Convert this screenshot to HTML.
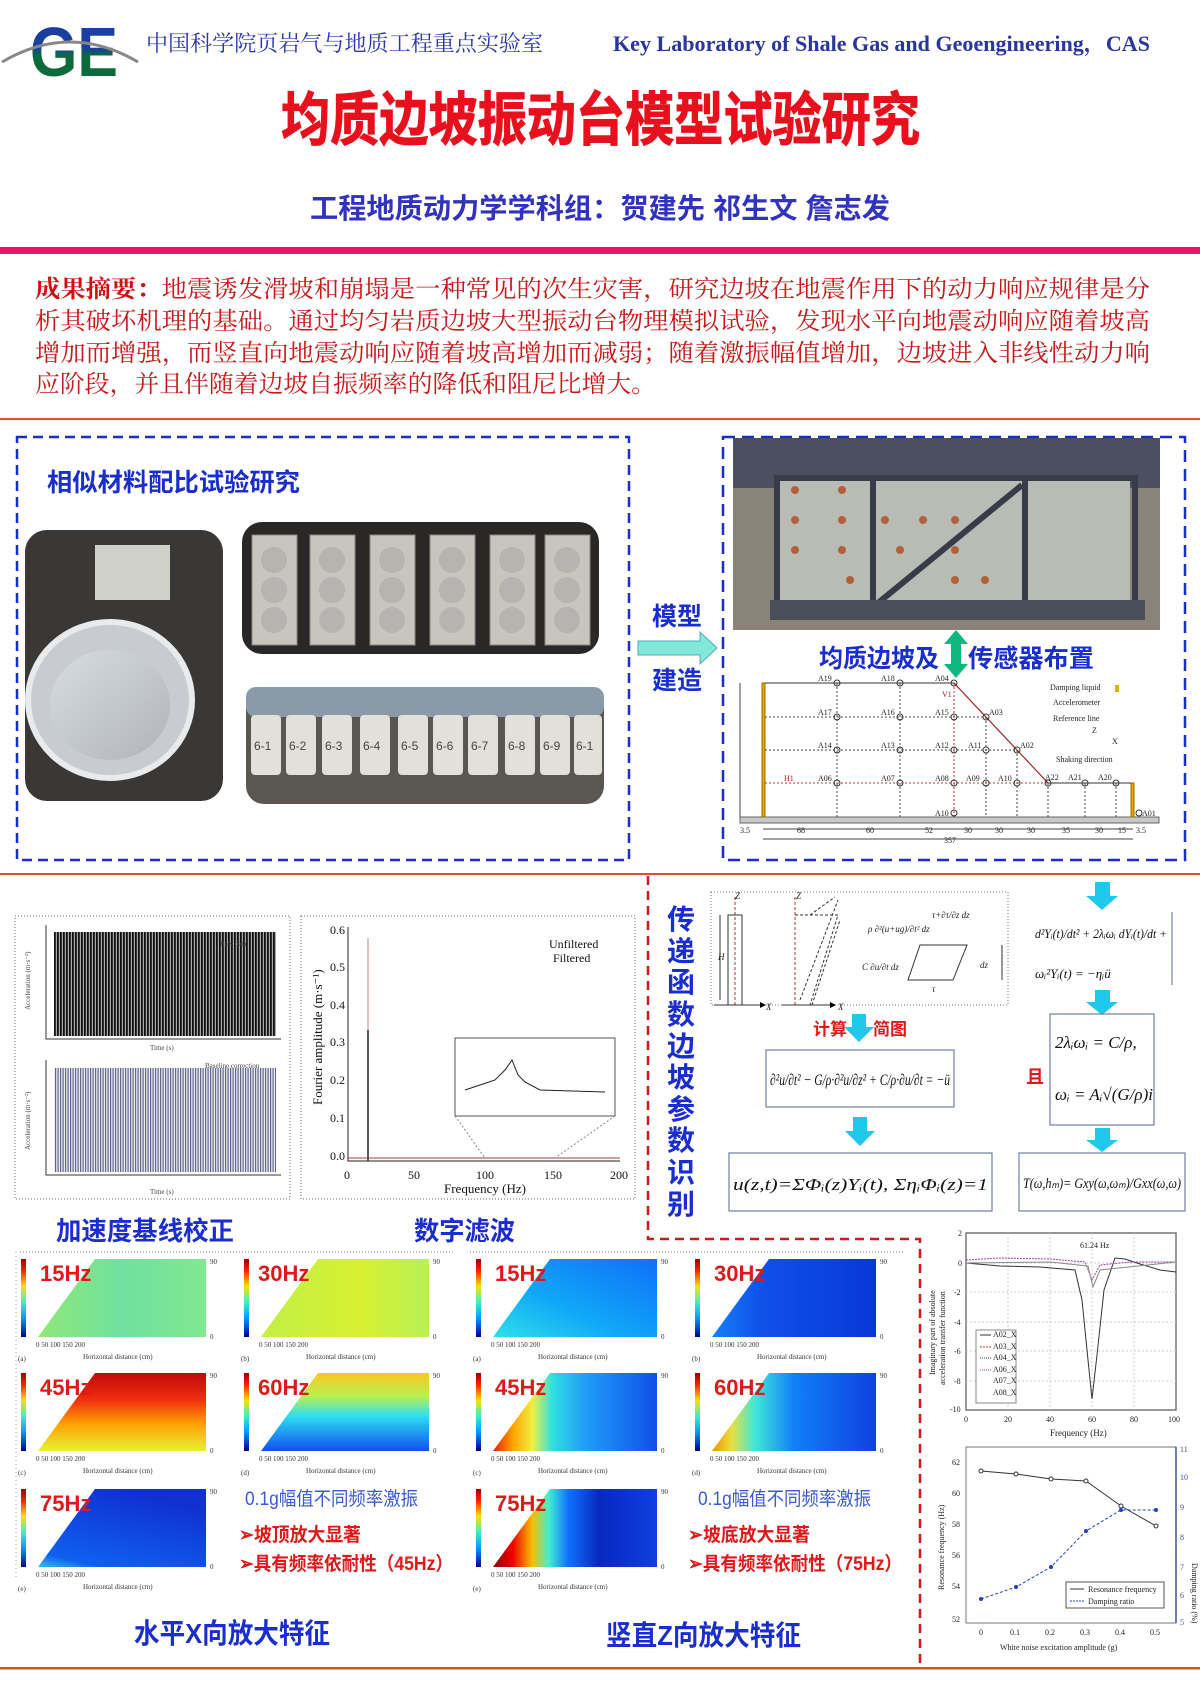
<!DOCTYPE html>
<html><head><meta charset="utf-8"><style>
html,body{margin:0;padding:0;background:#fff;}
svg{display:block;}
.cn{font-family:"Liberation Sans","Noto Sans CJK SC",sans-serif;}
.cs{font-family:"Liberation Serif","Noto Serif CJK SC",serif;}
.sr{font-family:"Liberation Serif","Noto Serif CJK SC",serif;}
</style></head><body>
<svg width="1200" height="1696" viewBox="0 0 1200 1696" xmlns="http://www.w3.org/2000/svg">
<defs>
<linearGradient id="logo" x1="0" y1="0" x2="0" y2="1"><stop offset="0.45" stop-color="#1a3fa0"/><stop offset="0.55" stop-color="#0d6a3a"/></linearGradient>
<linearGradient id="cbar" x1="0" y1="0" x2="0" y2="1"><stop offset="0" stop-color="#a00000"/><stop offset="0.15" stop-color="#ff2000"/><stop offset="0.35" stop-color="#ffe000"/><stop offset="0.55" stop-color="#40f0c0"/><stop offset="0.75" stop-color="#00a0ff"/><stop offset="1" stop-color="#000090"/></linearGradient>
<linearGradient id="x15"><stop offset="0" stop-color="#90e878"/><stop offset="0.5" stop-color="#70e0a0"/><stop offset="1" stop-color="#80e890"/></linearGradient>
<linearGradient id="x30"><stop offset="0" stop-color="#c0f048"/><stop offset="0.6" stop-color="#d8f030"/><stop offset="1" stop-color="#b8f058"/></linearGradient>
<linearGradient id="x45" x1="0" y1="0" x2="0" y2="1"><stop offset="0" stop-color="#c00808"/><stop offset="0.35" stop-color="#f03010"/><stop offset="0.65" stop-color="#ffa000"/><stop offset="1" stop-color="#e8f038"/></linearGradient>
<linearGradient id="x60" x1="0" y1="0" x2="0" y2="1"><stop offset="0" stop-color="#f8c820"/><stop offset="0.3" stop-color="#b8f050"/><stop offset="0.55" stop-color="#30e0f0"/><stop offset="1" stop-color="#1050f0"/></linearGradient>
<linearGradient id="x75" x1="0" y1="1" x2="0.5" y2="0"><stop offset="0" stop-color="#30c0f0"/><stop offset="0.15" stop-color="#1060f0"/><stop offset="1" stop-color="#1030d0"/></linearGradient>
<linearGradient id="z15" x1="0" y1="1" x2="1" y2="0"><stop offset="0" stop-color="#30e0e8"/><stop offset="0.4" stop-color="#10a8f8"/><stop offset="1" stop-color="#1070f8"/></linearGradient>
<linearGradient id="z30"><stop offset="0" stop-color="#1880f8"/><stop offset="0.3" stop-color="#1050e8"/><stop offset="1" stop-color="#0838d8"/></linearGradient>
<linearGradient id="z45"><stop offset="0" stop-color="#e02000"/><stop offset="0.12" stop-color="#ffa000"/><stop offset="0.24" stop-color="#f0f040"/><stop offset="0.36" stop-color="#30e0e0"/><stop offset="0.55" stop-color="#20a0f8"/><stop offset="1" stop-color="#1050e8"/></linearGradient>
<linearGradient id="z60"><stop offset="0" stop-color="#f09000"/><stop offset="0.12" stop-color="#e8e040"/><stop offset="0.26" stop-color="#40e8d8"/><stop offset="0.5" stop-color="#1080f8"/><stop offset="1" stop-color="#1040e0"/></linearGradient>
<linearGradient id="z75"><stop offset="0" stop-color="#900000"/><stop offset="0.12" stop-color="#f00000"/><stop offset="0.24" stop-color="#f8c000"/><stop offset="0.34" stop-color="#40f0d0"/><stop offset="0.46" stop-color="#1070ff"/><stop offset="0.65" stop-color="#0828c0"/><stop offset="1" stop-color="#1040e0"/></linearGradient>
<pattern id="wav" width="3" height="10" patternUnits="userSpaceOnUse"><rect width="3" height="10" fill="#aaa"/><rect width="1.8" height="10" fill="#111"/></pattern>
<pattern id="wav2" width="2.5" height="6" patternUnits="userSpaceOnUse"><rect width="2.5" height="6" fill="#e8e8f0"/><rect width="1.2" height="6" fill="#3a3f70"/></pattern>
<linearGradient id="bowl" x1="0" y1="0" x2="1" y2="1"><stop offset="0" stop-color="#d8dde2"/><stop offset="1" stop-color="#b0b4b8"/></linearGradient>
<marker id="ah" markerWidth="6" markerHeight="6" refX="5" refY="3" orient="auto"><path d="M0,0 L6,3 L0,6z" fill="#000"/></marker>
</defs>

<!-- Header -->
<text x="30" y="76" font-family="Liberation Sans" font-weight="bold" font-size="70" fill="url(#logo)" textLength="88" lengthAdjust="spacingAndGlyphs">GE</text>
<path d="M2,62 Q70,22 138,62" fill="none" stroke="#888" stroke-width="3"/>
<text class="cs" x="146" y="51" font-size="22" fill="#2a36b0" textLength="397" lengthAdjust="spacingAndGlyphs">中国科学院页岩气与地质工程重点实验室</text>
<text class="sr" x="613" y="51" font-size="22" font-weight="bold" fill="#2a36a0" textLength="537" lengthAdjust="spacingAndGlyphs">Key Laboratory of Shale Gas and Geoengineering，CAS</text>
<text class="cn" x="281" y="140" font-size="58" font-weight="bold" fill="#e8101c" stroke="#e8101c" stroke-width="1" textLength="639" lengthAdjust="spacingAndGlyphs">均质边坡振动台模型试验研究</text>
<text class="cn" x="310" y="218" font-size="28" font-weight="bold" fill="#3232c0" textLength="580" lengthAdjust="spacingAndGlyphs">工程地质动力学学科组：贺建先 祁生文 詹志发</text>
<rect x="0" y="247" width="1200" height="7" fill="#f0106a"/>

<!-- abstract -->
<g class="cs" font-size="24" fill="#c81818">
<text x="35" y="297" textLength="1115" lengthAdjust="spacingAndGlyphs"><tspan font-weight="bold" fill="#d01010">成果摘要：</tspan>地震诱发滑坡和崩塌是一种常见的次生灾害，研究边坡在地震作用下的动力响应规律是分</text>
<text x="35" y="329" textLength="1115" lengthAdjust="spacingAndGlyphs">析其破坏机理的基础。通过均匀岩质边坡大型振动台物理模拟试验，发现水平向地震动响应随着坡高</text>
<text x="35" y="361" textLength="1115" lengthAdjust="spacingAndGlyphs">增加而增强，而竖直向地震动响应随着坡高增加而减弱；随着激振幅值增加，边坡进入非线性动力响</text>
<text x="35" y="392" textLength="621" lengthAdjust="spacingAndGlyphs">应阶段，并且伴随着边坡自振频率的降低和阻尼比增大。</text>
</g>
<rect x="0" y="418" width="1200" height="2" fill="#e05020"/>

<!-- left dashed box -->
<rect x="17" y="437" width="612" height="423" fill="none" stroke="#1a2ed0" stroke-width="2.5" stroke-dasharray="10,6"/>
<text class="cn" x="47" y="491" font-size="25" font-weight="bold" fill="#1a2ed0" textLength="253" lengthAdjust="spacingAndGlyphs">相似材料配比试验研究</text>
<rect x="25" y="530" width="198" height="271" rx="22" fill="#3a3836"/>
<rect x="95" y="545" width="75" height="55" fill="#cfd0c8"/>
<ellipse cx="110" cy="700" rx="82" ry="78" fill="#c8ccd0" stroke="#e8eaec" stroke-width="6"/>
<ellipse cx="110" cy="705" rx="60" ry="55" fill="url(#bowl)"/>
<rect x="242" y="522" width="357" height="132" rx="20" fill="#2a2826"/>
<g fill="#c8c5be" stroke="#8a8680">
<rect x="252" y="535" width="45" height="110"/><rect x="310" y="535" width="45" height="110"/><rect x="370" y="535" width="45" height="110"/><rect x="430" y="535" width="45" height="110"/><rect x="490" y="535" width="45" height="110"/><rect x="545" y="535" width="45" height="110"/>
</g>
<g fill="#b5b4b0"><circle cx="274" cy="560" r="13"/><circle cx="274" cy="590" r="13"/><circle cx="274" cy="620" r="13"/><circle cx="332" cy="560" r="13"/><circle cx="332" cy="590" r="13"/><circle cx="332" cy="620" r="13"/><circle cx="392" cy="560" r="13"/><circle cx="392" cy="590" r="13"/><circle cx="392" cy="620" r="13"/><circle cx="452" cy="560" r="13"/><circle cx="452" cy="590" r="13"/><circle cx="452" cy="620" r="13"/><circle cx="512" cy="560" r="13"/><circle cx="512" cy="590" r="13"/><circle cx="512" cy="620" r="13"/><circle cx="567" cy="560" r="13"/><circle cx="567" cy="590" r="13"/><circle cx="567" cy="620" r="13"/></g>
<rect x="246" y="687" width="358" height="117" rx="18" fill="#5a5650"/>
<rect x="246" y="687" width="358" height="30" rx="10" fill="#8a9aa8"/>
<g fill="#e2e0da"><rect x="251" y="715" width="30" height="60" rx="4"/><rect x="286" y="715" width="30" height="60" rx="4"/><rect x="322" y="715" width="30" height="60" rx="4"/><rect x="360" y="715" width="30" height="60" rx="4"/><rect x="398" y="715" width="30" height="60" rx="4"/><rect x="433" y="715" width="30" height="60" rx="4"/><rect x="468" y="715" width="30" height="60" rx="4"/><rect x="505" y="715" width="30" height="60" rx="4"/><rect x="540" y="715" width="30" height="60" rx="4"/><rect x="574" y="715" width="28" height="60" rx="4"/></g>
<g font-family="Liberation Sans" font-size="12" fill="#444"><text x="254" y="750">6-1</text><text x="289" y="750">6-2</text><text x="325" y="750">6-3</text><text x="363" y="750">6-4</text><text x="401" y="750">6-5</text><text x="436" y="750">6-6</text><text x="471" y="750">6-7</text><text x="508" y="750">6-8</text><text x="543" y="750">6-9</text><text x="576" y="750">6-1</text></g>

<!-- 模型建造 arrow -->
<text class="cn" x="652" y="625" font-size="25" font-weight="bold" fill="#1a2ed0">模型</text>
<path d="M638,641 H700 V632 L717,648 L700,664 V655 H638z" fill="#7fe8d8" stroke="#5ab" stroke-width="1"/>
<text class="cn" x="652" y="689" font-size="25" font-weight="bold" fill="#1a2ed0">建造</text>

<!-- right dashed box -->
<rect x="723" y="437" width="462" height="423" fill="none" stroke="#1a2ed0" stroke-width="2.5" stroke-dasharray="12,7"/>
<rect x="733" y="438" width="427" height="192" fill="#8a8478"/>
<rect x="733" y="438" width="427" height="50" fill="#4a5060"/>
<rect x="780" y="480" width="350" height="125" fill="#b8bcb4"/>
<g fill="none" stroke="#383c48" stroke-width="6"><rect x="777" y="478" width="358" height="130"/><line x1="873" y1="478" x2="873" y2="608"/><line x1="1025" y1="478" x2="1025" y2="608"/><line x1="878" y1="603" x2="1022" y2="485"/></g>
<rect x="770" y="600" width="375" height="20" fill="#4a4e58"/>
<g fill="#b0603a"><circle cx="795" cy="490" r="4"/><circle cx="842" cy="490" r="4"/><circle cx="795" cy="520" r="4"/><circle cx="842" cy="520" r="4"/><circle cx="795" cy="550" r="4"/><circle cx="842" cy="550" r="4"/><circle cx="850" cy="580" r="4"/><circle cx="885" cy="520" r="4"/><circle cx="923" cy="520" r="4"/><circle cx="955" cy="520" r="4"/><circle cx="900" cy="550" r="4"/><circle cx="955" cy="550" r="4"/><circle cx="985" cy="580" r="4"/><circle cx="955" cy="580" r="4"/></g>
<text class="cn" x="819" y="667" font-size="25" font-weight="bold" fill="#1a2ed0" textLength="120" lengthAdjust="spacingAndGlyphs">均质边坡及</text>
<text class="cn" x="968" y="667" font-size="25" font-weight="bold" fill="#1a2ed0" textLength="126" lengthAdjust="spacingAndGlyphs">传感器布置</text>
<path d="M956,630 L968,644 H961 V664 H968 L956,678 L944,664 H951 V644 H944z" fill="#10b880"/>
<!-- sensor diagram -->
<g stroke-width="1" fill="none">
<rect x="740" y="817" width="419" height="6" fill="#c8c8c8" stroke="#666"/>
<rect x="762" y="683" width="3" height="134" fill="#e0a800" stroke="#a07000"/>
<rect x="1131" y="783" width="3" height="34" fill="#e0a800" stroke="#a07000"/>
<path d="M765,683 H954 L1048,783 H1131" stroke="#333"/>
<line x1="954" y1="683" x2="1048" y2="783" stroke="#b02020"/>
<g stroke="#444" stroke-dasharray="2,2"><line x1="765" y1="717" x2="986" y2="717"/><line x1="765" y1="750" x2="1017" y2="750"/><line x1="837" y1="683" x2="837" y2="817"/><line x1="900" y1="683" x2="900" y2="817"/><line x1="986" y1="717" x2="986" y2="817"/><line x1="1017" y1="750" x2="1017" y2="817"/><line x1="1048" y1="783" x2="1048" y2="817"/><line x1="1085" y1="783" x2="1085" y2="817"/><line x1="1116" y1="783" x2="1116" y2="817"/></g>
<g stroke="#c03030" stroke-dasharray="2,2"><line x1="765" y1="783" x2="1048" y2="783"/><line x1="954" y1="683" x2="954" y2="817"/></g>
<line x1="740" y1="683" x2="740" y2="817" stroke="#444"/>
<line x1="763" y1="829" x2="1133" y2="829" stroke="#444"/><line x1="763" y1="839" x2="1133" y2="839" stroke="#444"/>
<g stroke="#333"><circle cx="837" cy="683" r="3"/><circle cx="900" cy="683" r="3"/><circle cx="954" cy="683" r="3"/><circle cx="837" cy="717" r="3"/><circle cx="900" cy="717" r="3"/><circle cx="954" cy="717" r="3"/><circle cx="986" cy="717" r="3"/><circle cx="837" cy="750" r="3"/><circle cx="900" cy="750" r="3"/><circle cx="954" cy="750" r="3"/><circle cx="986" cy="750" r="3"/><circle cx="1017" cy="750" r="3"/><circle cx="837" cy="783" r="3"/><circle cx="900" cy="783" r="3"/><circle cx="954" cy="783" r="3"/><circle cx="986" cy="783" r="3"/><circle cx="1017" cy="783" r="3"/><circle cx="1048" cy="783" r="3"/><circle cx="1085" cy="783" r="3"/><circle cx="1116" cy="783" r="3"/><circle cx="954" cy="813" r="3"/><circle cx="1139" cy="813" r="3"/></g>
</g>
<g class="sr" font-size="8" fill="#222">
<text x="818" y="681">A19</text><text x="881" y="681">A18</text><text x="935" y="681">A04</text><text x="818" y="715">A17</text><text x="881" y="715">A16</text><text x="935" y="715">A15</text><text x="989" y="715">A03</text>
<text x="818" y="748">A14</text><text x="881" y="748">A13</text><text x="935" y="748">A12</text><text x="968" y="748">A11</text><text x="1020" y="748">A02</text>
<text x="818" y="781">A06</text><text x="881" y="781">A07</text><text x="935" y="781">A08</text><text x="966" y="781">A09</text><text x="998" y="781">A10</text><text x="1045" y="780">A22</text><text x="1068" y="780">A21</text><text x="1098" y="780">A20</text>
<text x="935" y="816">A10</text><text x="1142" y="816">A01</text>
<text x="942" y="697" fill="#b02020">V1</text><text x="784" y="781" fill="#b02020">H1</text>
<text x="1050" y="690">Damping liquid</text><text x="1053" y="705">Accelerometer</text><text x="1053" y="721">Reference line</text><text x="1056" y="762">Shaking direction</text><text x="1112" y="744">X</text><text x="1092" y="733">Z</text>
<text x="740" y="833">3.5</text><text x="797" y="833">68</text><text x="866" y="833">60</text><text x="925" y="833">52</text><text x="964" y="833">30</text><text x="995" y="833">30</text><text x="1027" y="833">30</text><text x="1062" y="833">35</text><text x="1095" y="833">30</text><text x="1118" y="833">15</text><text x="1136" y="833">3.5</text><text x="944" y="843">357</text>
</g>
<rect x="1115" y="685" width="4" height="7" fill="#e0b000"/>

<!-- middle orange line -->
<rect x="0" y="873" width="1200" height="2" fill="#e05020"/>
<g stroke="#d01818" stroke-width="2.5" stroke-dasharray="9,6" fill="none"><path d="M648,876 V1239 H920 V1669"/></g>

<!-- left charts -->
<rect x="15" y="916" width="275" height="283" fill="none" stroke="#666" stroke-dasharray="1,2"/>
<rect x="301" y="916" width="334" height="283" fill="none" stroke="#666" stroke-dasharray="1,2"/>
<rect x="54" y="932" width="222" height="104" fill="url(#wav)"/>
<rect x="54" y="1068" width="222" height="104" fill="url(#wav2)" opacity="0.8"/>
<g stroke="#333" fill="none"><path d="M46,925 V1039 H281"/><path d="M46,1060 V1175 H281"/></g>
<g class="sr" font-size="7" fill="#444"><text x="220" y="946">Raw data</text><text x="205" y="1068">Baseline correction</text><text x="150" y="1050">Time (s)</text><text x="150" y="1194">Time (s)</text>
<text x="30" y="1010" transform="rotate(-90 30 1010)">Acceleration (m·s⁻²)</text><text x="30" y="1150" transform="rotate(-90 30 1150)">Acceleration (m·s⁻²)</text></g>
<g stroke="#222" fill="none"><path d="M348,927 V1161 H620"/><line x1="368" y1="1161" x2="368" y2="1030" stroke-width="1.5"/><line x1="368" y1="1030" x2="368" y2="938" stroke="#d08080"/><path d="M348,1158 H620" stroke="#a04040"/>
<rect x="455" y="1038" width="160" height="78" stroke="#555"/><path d="M465,1090 L480,1085 L495,1080 L505,1070 L512,1060 L518,1075 L525,1082 L540,1090 L605,1092" stroke="#222"/><line x1="455" y1="1116" x2="485" y2="1158" stroke="#888" stroke-dasharray="2,2"/><line x1="615" y1="1116" x2="555" y2="1158" stroke="#888" stroke-dasharray="2,2"/></g>
<g class="sr" font-size="12" fill="#111"><text x="330" y="934">0.6</text><text x="330" y="971">0.5</text><text x="330" y="1009">0.4</text><text x="330" y="1046">0.3</text><text x="330" y="1084">0.2</text><text x="330" y="1122">0.1</text><text x="330" y="1160">0.0</text>
<text x="344" y="1179">0</text><text x="408" y="1179">50</text><text x="476" y="1179">100</text><text x="544" y="1179">150</text><text x="610" y="1179">200</text>
<text x="444" y="1193" font-size="13">Frequency (Hz)</text><text x="549" y="948">Unfiltered</text><text x="553" y="962">Filtered</text>
<text x="322" y="1105" font-size="13" transform="rotate(-90 322 1105)">Fourier amplitude (m·s⁻¹)</text></g>
<text class="cn" x="56" y="1240" font-size="26" font-weight="bold" fill="#1a2ed0" textLength="178" lengthAdjust="spacingAndGlyphs">加速度基线校正</text>
<text class="cn" x="414" y="1240" font-size="26" font-weight="bold" fill="#1a2ed0" textLength="101" lengthAdjust="spacingAndGlyphs">数字滤波</text>

<!-- transfer function section -->
<g class="cn" font-size="28" font-weight="bold" fill="#1a2ed0">
<text x="667" y="929">传</text><text x="667" y="961">递</text><text x="667" y="992">函</text><text x="667" y="1024">数</text><text x="667" y="1056">边</text><text x="667" y="1087">坡</text><text x="667" y="1119">参</text><text x="667" y="1150">数</text><text x="667" y="1182">识</text><text x="667" y="1214">别</text></g>
<rect x="711" y="892" width="297" height="113" fill="none" stroke="#777" stroke-dasharray="1,2"/>
<g stroke="#333" fill="none" stroke-width="1"><line x1="714" y1="1005" x2="765" y2="1005" marker-end="url(#ah)"/><line x1="782" y1="1005" x2="835" y2="1005" marker-end="url(#ah)"/><line x1="735" y1="1005" x2="735" y2="895" stroke="#b03030" stroke-dasharray="3,2"/><line x1="795" y1="1005" x2="795" y2="895" stroke="#b03030" stroke-dasharray="3,2"/><rect x="728" y="915" width="14" height="90"/><line x1="720" y1="915" x2="720" y2="1000"/><path d="M795,915 L838,915 L810,1005 M810,915 L835,897 M800,1000 L838,900 M812,1005 L840,920" stroke-dasharray="3,2"/><path d="M920,945 H967 L953,980 H908z"/><line x1="1002" y1="945" x2="1002" y2="980"/></g>
<g class="sr" font-size="9" fill="#222" font-style="italic"><text x="735" y="899">Z</text><text x="796" y="899">Z</text><text x="718" y="960">H</text><text x="766" y="1010">X</text><text x="838" y="1010">X</text><text x="868" y="932">ρ ∂²(u+ug)/∂t² dz</text><text x="862" y="970">C ∂u/∂t dz</text><text x="932" y="918">τ+∂τ/∂z dz</text><text x="980" y="968">dz</text><text x="932" y="992">τ</text></g>
<text class="cn" x="813" y="1035" font-size="17" font-weight="bold" fill="#e01818">计算</text>
<text class="cn" x="873" y="1035" font-size="17" font-weight="bold" fill="#e01818">简图</text>
<g fill="#20c8ec">
<path d="M852,1014 H866 V1027 H874 L859,1042 L844,1027 H852z"/>
<path d="M853,1117 H867 V1131 H875 L860,1146 L845,1131 H853z"/>
<path d="M1095,882 H1110 V896 H1118 L1102,910 L1086,896 H1095z"/>
<path d="M1095,990 H1110 V1002 H1118 L1102,1015 L1086,1002 H1095z"/>
<path d="M1095,1128 H1110 V1140 H1118 L1102,1152 L1086,1140 H1095z"/>
</g>
<rect x="766" y="1050" width="188" height="57" fill="#fff" stroke="#6a7ea8" stroke-width="1.2"/>
<rect x="729" y="1153" width="263" height="58" fill="#fff" stroke="#6a7ea8" stroke-width="1.2"/>
<rect x="1050" y="1014" width="104" height="111" fill="none" stroke="#6a7ea8" stroke-width="1.2"/>
<rect x="1019" y="1153" width="166" height="58" fill="#fff" stroke="#6a7ea8" stroke-width="1.2"/>
<line x1="1172" y1="912" x2="1172" y2="985" stroke="#6a7ea8" stroke-width="1.2"/>
<g class="sr" font-style="italic" fill="#111">
<text x="770" y="1085" font-size="16" textLength="180" lengthAdjust="spacingAndGlyphs">∂²u/∂t² − G/ρ·∂²u/∂z² + C/ρ·∂u/∂t = −ü</text>
<text x="733" y="1190" font-size="17" textLength="255" lengthAdjust="spacingAndGlyphs">u(z,t)=ΣΦᵢ(z)Yᵢ(t), ΣηᵢΦᵢ(z)=1</text>
<text x="1035" y="938" font-size="13" textLength="132" lengthAdjust="spacingAndGlyphs">d²Yᵢ(t)/dt² + 2λᵢωᵢ dYᵢ(t)/dt +</text>
<text x="1035" y="978" font-size="13">ωᵢ²Yᵢ(t) = −ηᵢü</text>
<text x="1055" y="1048" font-size="17">2λᵢωᵢ = C/ρ,</text>
<text x="1055" y="1100" font-size="17">ωᵢ = Aᵢ√(G/ρ)i</text>
<text x="1023" y="1188" font-size="15" textLength="158" lengthAdjust="spacingAndGlyphs">T(ω,hₘ)= Gxy(ω,ωₘ)/Gxx(ω,ω)</text>
</g>
<text class="cn" x="1026" y="1083" font-size="18" font-weight="bold" fill="#e01818">且</text>

<line x1="20" y1="1252" x2="455" y2="1252" stroke="#777" stroke-dasharray="1,2"/>
<line x1="470" y1="1252" x2="905" y2="1252" stroke="#777" stroke-dasharray="1,2"/>
<line x1="16" y1="1252" x2="16" y2="1580" stroke="#999" stroke-dasharray="1,3"/>

<!-- heatmap panels -->
<g>
<g transform="translate(38,1259)"><rect x="-17" y="0" width="5" height="78" fill="url(#cbar)"/><polygon points="0,78 57,0 168,0 168,78" fill="url(#x15)"/><text class="cn" x="2" y="22" font-size="22" font-weight="bold" fill="#e01818">15Hz</text></g>
<g transform="translate(261,1259)"><rect x="-17" y="0" width="5" height="78" fill="url(#cbar)"/><polygon points="0,78 57,0 168,0 168,78" fill="url(#x30)"/><text class="cn" x="-3" y="22" font-size="22" font-weight="bold" fill="#e01818">30Hz</text></g>
<g transform="translate(38,1373)"><rect x="-17" y="0" width="5" height="78" fill="url(#cbar)"/><polygon points="0,78 57,0 168,0 168,78" fill="url(#x45)"/><text class="cn" x="2" y="22" font-size="22" font-weight="bold" fill="#e01818">45Hz</text></g>
<g transform="translate(261,1373)"><rect x="-17" y="0" width="5" height="78" fill="url(#cbar)"/><polygon points="0,78 57,0 168,0 168,78" fill="url(#x60)"/><text class="cn" x="-3" y="22" font-size="22" font-weight="bold" fill="#e01818">60Hz</text></g>
<g transform="translate(38,1489)"><rect x="-17" y="0" width="5" height="78" fill="url(#cbar)"/><polygon points="0,78 57,0 168,0 168,78" fill="url(#x75)"/><text class="cn" x="2" y="22" font-size="22" font-weight="bold" fill="#e01818">75Hz</text></g>
<g transform="translate(493,1259)"><rect x="-17" y="0" width="5" height="78" fill="url(#cbar)"/><polygon points="0,78 57,0 164,0 164,78" fill="url(#z15)"/><text class="cn" x="2" y="22" font-size="22" font-weight="bold" fill="#e01818">15Hz</text></g>
<g transform="translate(712,1259)"><rect x="-17" y="0" width="5" height="78" fill="url(#cbar)"/><polygon points="0,78 57,0 164,0 164,78" fill="url(#z30)"/><text class="cn" x="2" y="22" font-size="22" font-weight="bold" fill="#e01818">30Hz</text></g>
<g transform="translate(493,1373)"><rect x="-17" y="0" width="5" height="78" fill="url(#cbar)"/><polygon points="0,78 57,0 164,0 164,78" fill="url(#z45)"/><text class="cn" x="2" y="22" font-size="22" font-weight="bold" fill="#e01818">45Hz</text></g>
<g transform="translate(712,1373)"><rect x="-17" y="0" width="5" height="78" fill="url(#cbar)"/><polygon points="0,78 57,0 164,0 164,78" fill="url(#z60)"/><text class="cn" x="2" y="22" font-size="22" font-weight="bold" fill="#e01818">60Hz</text></g>
<g transform="translate(493,1489)"><rect x="-17" y="0" width="5" height="78" fill="url(#cbar)"/><polygon points="0,78 57,0 164,0 164,78" fill="url(#z75)"/><text class="cn" x="2" y="22" font-size="22" font-weight="bold" fill="#e01818">75Hz</text></g>
</g>
<g class="sr" font-size="7" fill="#333">
<g transform="translate(38,1259)"><text x="-2" y="88">0   50   100   150   200</text><text x="45" y="100">Horizontal distance (cm)</text><text x="-20" y="102">(a)</text><text x="172" y="5">90</text><text x="172" y="80">0</text></g>
<g transform="translate(261,1259)"><text x="-2" y="88">0   50   100   150   200</text><text x="45" y="100">Horizontal distance (cm)</text><text x="-20" y="102">(b)</text><text x="172" y="5">90</text><text x="172" y="80">0</text></g>
<g transform="translate(38,1373)"><text x="-2" y="88">0   50   100   150   200</text><text x="45" y="100">Horizontal distance (cm)</text><text x="-20" y="102">(c)</text><text x="172" y="5">90</text><text x="172" y="80">0</text></g>
<g transform="translate(261,1373)"><text x="-2" y="88">0   50   100   150   200</text><text x="45" y="100">Horizontal distance (cm)</text><text x="-20" y="102">(d)</text><text x="172" y="5">90</text><text x="172" y="80">0</text></g>
<g transform="translate(38,1489)"><text x="-2" y="88">0   50   100   150   200</text><text x="45" y="100">Horizontal distance (cm)</text><text x="-20" y="102">(e)</text><text x="172" y="5">90</text><text x="172" y="80">0</text></g>
<g transform="translate(493,1259)"><text x="-2" y="88">0   50   100   150   200</text><text x="45" y="100">Horizontal distance (cm)</text><text x="-20" y="102">(a)</text><text x="168" y="5">90</text><text x="168" y="80">0</text></g>
<g transform="translate(712,1259)"><text x="-2" y="88">0   50   100   150   200</text><text x="45" y="100">Horizontal distance (cm)</text><text x="-20" y="102">(b)</text><text x="168" y="5">90</text><text x="168" y="80">0</text></g>
<g transform="translate(493,1373)"><text x="-2" y="88">0   50   100   150   200</text><text x="45" y="100">Horizontal distance (cm)</text><text x="-20" y="102">(c)</text><text x="168" y="5">90</text><text x="168" y="80">0</text></g>
<g transform="translate(712,1373)"><text x="-2" y="88">0   50   100   150   200</text><text x="45" y="100">Horizontal distance (cm)</text><text x="-20" y="102">(d)</text><text x="168" y="5">90</text><text x="168" y="80">0</text></g>
<g transform="translate(493,1489)"><text x="-2" y="88">0   50   100   150   200</text><text x="45" y="100">Horizontal distance (cm)</text><text x="-20" y="102">(e)</text><text x="168" y="5">90</text><text x="168" y="80">0</text></g>
</g>

<g class="cn" font-weight="bold">
<text x="245" y="1505" font-size="19" fill="#3a5ad0" font-weight="normal" textLength="173" lengthAdjust="spacingAndGlyphs">0.1g幅值不同频率激振</text>
<text x="239" y="1541" font-size="19" fill="#e01818" textLength="122" lengthAdjust="spacingAndGlyphs">➢坡顶放大显著</text>
<text x="239" y="1570" font-size="19" fill="#e01818" textLength="214" lengthAdjust="spacingAndGlyphs">➢具有频率依耐性（45Hz）</text>
<text x="698" y="1505" font-size="19" fill="#3a5ad0" font-weight="normal" textLength="173" lengthAdjust="spacingAndGlyphs">0.1g幅值不同频率激振</text>
<text x="688" y="1541" font-size="19" fill="#e01818" textLength="122" lengthAdjust="spacingAndGlyphs">➢坡底放大显著</text>
<text x="688" y="1570" font-size="19" fill="#e01818" textLength="214" lengthAdjust="spacingAndGlyphs">➢具有频率依耐性（75Hz）</text>
<text x="134" y="1643" font-size="28" fill="#1a2ed0" textLength="196" lengthAdjust="spacingAndGlyphs">水平X向放大特征</text>
<text x="606" y="1645" font-size="28" fill="#1a2ed0" textLength="195" lengthAdjust="spacingAndGlyphs">竖直Z向放大特征</text>
</g>

<!-- right chart 1 -->
<rect x="966" y="1233" width="210" height="177" fill="#fff" stroke="#777" stroke-width="1.5"/>
<g stroke="#ccc" stroke-dasharray="2,2"><line x1="966" y1="1263" x2="1176" y2="1263"/><line x1="966" y1="1292" x2="1176" y2="1292"/><line x1="966" y1="1322" x2="1176" y2="1322"/><line x1="966" y1="1351" x2="1176" y2="1351"/><line x1="966" y1="1381" x2="1176" y2="1381"/><line x1="1008" y1="1233" x2="1008" y2="1410"/><line x1="1050" y1="1233" x2="1050" y2="1410"/><line x1="1092" y1="1233" x2="1092" y2="1410"/><line x1="1134" y1="1233" x2="1134" y2="1410"/></g>
<path d="M966,1263 L1000,1266 L1040,1267 L1075,1270 L1082,1300 L1088,1360 L1092,1399 L1097,1355 L1104,1290 L1115,1258 L1125,1259 L1140,1264 L1160,1270 L1176,1272" fill="none" stroke="#333" stroke-width="1"/>
<path d="M966,1260 L1000,1258 L1050,1259 L1085,1262 L1092,1280 L1100,1265 L1130,1262 L1176,1262" fill="none" stroke="#a040a0" stroke-dasharray="2,1"/>
<path d="M966,1263 L1050,1262 L1088,1266 L1093,1287 L1100,1270 L1176,1262" fill="none" stroke="#888"/>
<rect x="976" y="1330" width="40" height="73" fill="#fff" stroke="#888"/>
<g class="sr" font-size="8" fill="#222"><text x="993" y="1337">A02_X</text><text x="993" y="1349">A03_X</text><text x="993" y="1360">A04_X</text><text x="993" y="1372">A06_X</text><text x="993" y="1383">A07_X</text><text x="993" y="1395">A08_X</text><text x="1080" y="1248">61.24 Hz</text>
<text x="958" y="1236">2</text><text x="958" y="1266">0</text><text x="954" y="1295">-2</text><text x="954" y="1325">-4</text><text x="954" y="1354">-6</text><text x="954" y="1384">-8</text><text x="950" y="1412">-10</text>
<text x="964" y="1422">0</text><text x="1004" y="1422">20</text><text x="1046" y="1422">40</text><text x="1088" y="1422">60</text><text x="1130" y="1422">80</text><text x="1168" y="1422">100</text><text x="1050" y="1436" font-size="9">Frequency (Hz)</text>
<text x="935" y="1375" transform="rotate(-90 935 1375)">Imaginary part of absolute</text><text x="945" y="1385" transform="rotate(-90 945 1385)">acceleration transfer function</text></g>
<g stroke="#333"><line x1="980" y1="1335" x2="991" y2="1335"/><line x1="980" y1="1347" x2="991" y2="1347" stroke="#c33" stroke-dasharray="2,1"/><line x1="980" y1="1358" x2="991" y2="1358" stroke-dasharray="1,1"/><line x1="980" y1="1370" x2="991" y2="1370" stroke="#a040a0" stroke-dasharray="1,1"/></g>

<!-- right chart 2 -->
<rect x="966" y="1447" width="210" height="176" fill="none" stroke="#777" stroke-width="1"/>
<line x1="1176" y1="1447" x2="1176" y2="1623" stroke="#4050a0" stroke-width="1.5"/>
<path d="M981,1471 L1016,1474 L1051,1479 L1086,1481 L1121,1506 L1156,1526" fill="none" stroke="#333"/>
<g fill="#fff" stroke="#333"><circle cx="981" cy="1471" r="2"/><circle cx="1016" cy="1474" r="2"/><circle cx="1051" cy="1479" r="2"/><circle cx="1086" cy="1481" r="2"/><circle cx="1121" cy="1506" r="2"/><circle cx="1156" cy="1526" r="2"/></g>
<path d="M981,1599 L1016,1587 L1051,1567 L1086,1531 L1121,1510 L1156,1510" fill="none" stroke="#2040c0" stroke-dasharray="3,2"/>
<g fill="#2040c0"><circle cx="981" cy="1599" r="2"/><circle cx="1016" cy="1587" r="2"/><circle cx="1051" cy="1567" r="2"/><circle cx="1086" cy="1531" r="2"/><circle cx="1121" cy="1510" r="2"/><circle cx="1156" cy="1510" r="2"/></g>
<rect x="1066" y="1582" width="98" height="26" fill="#fff" stroke="#555"/>
<g class="sr" font-size="8" fill="#222"><text x="1088" y="1592">Resonance frequency</text><text x="1088" y="1604">Damping ratio</text>
<text x="952" y="1465">62</text><text x="952" y="1496">60</text><text x="952" y="1527">58</text><text x="952" y="1558">56</text><text x="952" y="1589">54</text><text x="952" y="1622">52</text>
<text x="979" y="1635">0</text><text x="1010" y="1635">0.1</text><text x="1045" y="1635">0.2</text><text x="1080" y="1635">0.3</text><text x="1115" y="1635">0.4</text><text x="1150" y="1635">0.5</text>
<text x="1000" y="1650">White noise excitation amplitude (g)</text>
<text x="944" y="1590" transform="rotate(-90 944 1590)">Resonance frequency (Hz)</text>
<text x="1180" y="1452" fill="#4050a0">11</text><text x="1180" y="1480" fill="#4050a0">10</text><text x="1180" y="1510" fill="#4050a0">9</text><text x="1180" y="1540" fill="#4050a0">8</text><text x="1180" y="1570" fill="#4050a0">7</text><text x="1180" y="1598" fill="#4050a0">6</text><text x="1180" y="1625" fill="#4050a0">5</text>
<text x="1195" y="1560" transform="rotate(90 1192 1560)">Damping ratio (%)</text></g>
<line x1="1070" y1="1589" x2="1084" y2="1589" stroke="#333"/><line x1="1070" y1="1601" x2="1084" y2="1601" stroke="#2040c0" stroke-dasharray="2,1"/>

<rect x="0" y="1667" width="1200" height="2.5" fill="#e05020"/>
</svg>
</body></html>
